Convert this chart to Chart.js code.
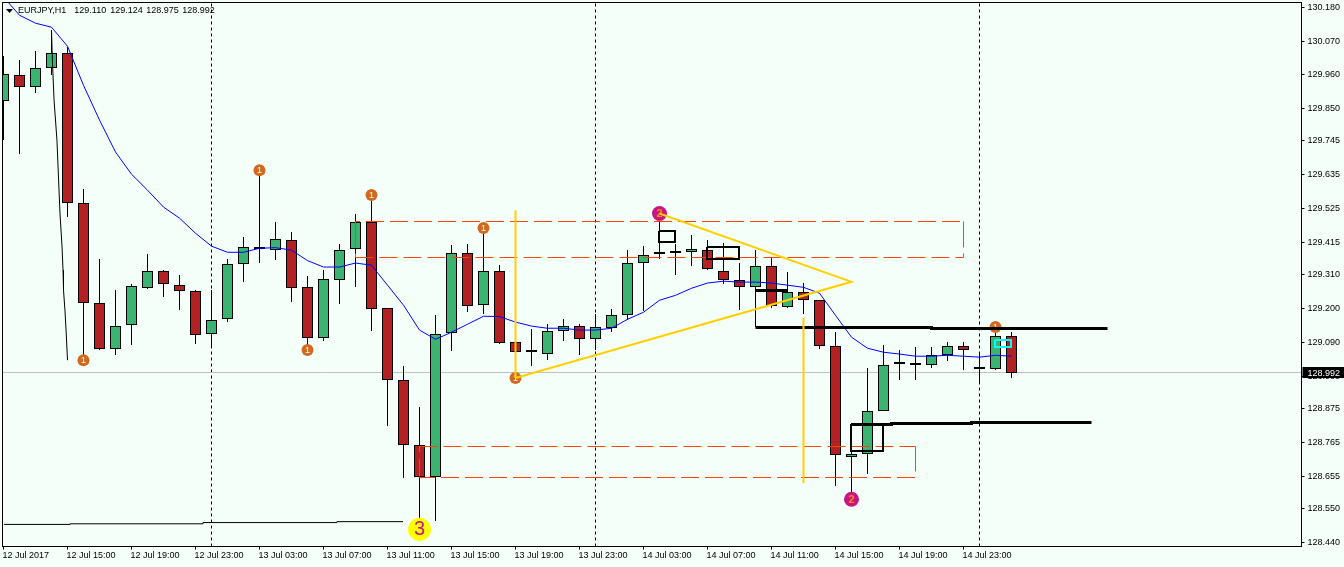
<!DOCTYPE html>
<html>
<head>
<meta charset="utf-8">
<title>EURJPY,H1</title>
<script src="https://cdn.jsdelivr.net/npm/chart.js@4"></script>
<style>
    html, body { margin: 0; padding: 0; background: #F5FFFA; overflow: hidden; }
    canvas { display: block; }
</style>
</head>
<body>
<canvas id="candleChart" width="1344" height="567"></canvas>
<script>
// hourly candles, one per slot, 12 Jul 11:00 onwards
const opens = [129.874,129.961,129.920,129.982,130.030,129.544,129.219,129.069,129.146,129.268,129.322,129.278,129.258,129.118,129.167,129.346,
    129.400,129.391,129.424,129.271,129.105,129.294,129.393,129.481,129.201,128.967,128.757,128.652,129.120,129.380,129.211,129.322,
    129.091,129.058,129.052,129.126,129.143,129.100,129.136,129.178,129.348,129.377,129.380,129.383,129.390,129.322,129.292,129.269,
    129.338,129.204,129.253,129.227,129.078,128.717,128.726,128.866,129.019,129.016,129.016,129.048,129.078,129.009,129.003,129.110];
const highs = [130.021,130.008,130.037,130.105,130.050,129.588,129.360,129.260,129.279,129.377,129.325,129.308,129.260,129.260,129.360,129.432,
    129.666,129.481,129.448,129.305,129.325,129.409,129.507,129.569,129.201,129.013,128.879,129.178,129.406,129.409,129.461,129.341,
    129.091,129.133,129.149,129.165,129.149,129.182,129.198,129.390,129.403,129.481,129.409,129.439,129.422,129.413,129.348,129.390,
    129.367,129.318,129.283,129.227,129.123,128.824,129.006,129.081,129.065,129.074,129.074,129.091,129.091,129.052,129.139,129.124];
const lows = [129.748,129.702,129.900,129.959,129.497,129.048,129.066,129.048,129.081,129.263,129.237,129.195,129.084,129.074,129.156,129.286,
    129.348,129.357,129.221,129.081,129.094,129.214,129.269,129.126,128.817,128.648,128.518,128.509,129.061,129.188,129.182,129.084,
    128.974,129.013,129.032,129.094,129.048,129.065,129.123,129.162,129.191,129.360,129.308,129.338,129.325,129.279,129.195,129.139,
    129.201,129.201,129.182,129.068,128.622,128.587,128.661,128.866,128.967,128.967,129.006,129.029,129.000,128.957,129.000,128.975];
const closes = [129.962,129.920,129.983,130.030,129.544,129.219,129.068,129.143,129.273,129.323,129.281,129.258,129.115,129.164,129.346,129.400,
    129.393,129.426,129.268,129.105,129.296,129.391,129.481,129.198,128.967,128.756,128.652,129.118,129.380,129.208,129.322,129.087,
    129.058,129.058,129.126,129.143,129.100,129.139,129.178,129.348,129.374,129.377,129.380,129.393,129.328,129.292,129.269,129.338,
    129.208,129.253,129.227,129.078,128.723,128.726,128.866,129.016,129.019,129.016,129.048,129.078,129.065,129.003,129.110,128.992];
const movingAverage = [130.213,130.154,130.128,130.115,130.053,129.926,129.813,129.709,129.637,129.585,129.530,129.494,129.445,129.403,129.383,129.383,
    129.396,129.398,129.390,129.356,129.335,129.335,129.348,129.341,129.276,129.211,129.130,129.100,129.123,129.149,129.175,129.174,
    129.156,129.143,129.136,129.136,129.130,129.130,129.136,129.165,129.188,129.227,129.243,129.266,129.283,129.289,129.286,129.286,
    129.283,129.276,129.269,129.250,129.178,129.107,129.071,129.058,129.052,129.045,129.045,129.048,129.045,129.042,129.048,129.045];

const priceTicks = [130.180,130.070,129.960,129.850,129.745,129.635,129.525,129.415,129.310,129.200,129.090,128.980,128.875,128.765,128.655,128.550,128.440];
const timeTickSlots = [0,4,8,12,16,20,24,28,32,36,40,44,48,52,56,60];
const timeTickLabels = ['12 Jul 2017','12 Jul 15:00','12 Jul 19:00','12 Jul 23:00','13 Jul 03:00','13 Jul 07:00','13 Jul 11:00','13 Jul 15:00',
    '13 Jul 19:00','13 Jul 23:00','14 Jul 03:00','14 Jul 07:00','14 Jul 11:00','14 Jul 15:00','14 Jul 19:00','14 Jul 23:00'];
const daySeparators = [13, 37, 61];
const lastPrice = 128.992;
const headerName = 'EURJPY,H1';
const headerValues = ['129.110','129.124','128.975','128.992'];

// drawn objects, as [slot, price]
const swingCurve = [[3,130.105],[3.06,130.001],[3.16,129.878],[3.34,129.748],[3.53,129.510],[3.66,129.400],[3.72,129.325],[3.75,129.260],[3.84,129.195],[3.91,129.130],[4,129.032]];
const bottomLine = [[0.03,128.498],[4.16,128.498],[4.16,128.500],[12.47,128.500],[12.47,128.504],[20.84,128.504],[20.84,128.507],[24.97,128.507]];
const zoneTop = 129.4831;
const zoneBottom = 129.3660;
const lowZoneTop = 128.7514;
const lowZoneBottom = 128.6506;
const yellowLines = [
    [[32,129.520],[32,128.974]],
    [[50,129.169],[50,128.633]],
    [[32,128.974],[53,129.287],[41,129.509]]
];
const blackBoxes = [
    [[40.97,129.4522],[41.97,129.4522],[41.97,129.4164],[40.97,129.4164],[40.97,129.4522]],
    [[43.97,129.4002],[45.97,129.4002],[45.97,129.3612],[43.97,129.3612],[43.97,129.4002]],
    [[52.97,128.8246],[54.97,128.8246],[54.97,128.7368],[52.97,128.7368],[52.97,128.8246]]
];
const cyanBox = [[61.97,129.0977],[62.97,129.0977],[62.97,129.0750],[61.97,129.0750],[61.97,129.0977]];
const thickLines = [
    [[47,129.1384],[58,129.1384],[58,129.1351],[69,129.1351]],
    [[47,129.2587],[49,129.2587]],
    [[53,128.8229],[55.5,128.8229],[55.5,128.8262],[60.5,128.8262],[60.5,128.8295],[68,128.8295]]
];
const firstMarkers = [[5,129.032],[16,129.650],[19,129.065],[23,129.569],[30,129.462],[32,128.974],[62,129.140]];
const secondMarkers = [[41,129.509],[53,128.580]];
const thirdMarkers = [[26,128.482]];

const greenBody = '#3CB371';
const redBody = '#B22222';
const zoneColor = '#FF4500';
const fontName = '"Liberation Sans", Arial, sans-serif';

const slots = opens.map((_, i) => i);
const toXY = pts => pts.map(p => ({x: p[0], y: p[1]}));

function lineSet(pts, color, width, order, dash, dashOffset){
    return {
        type: 'line',
        data: toXY(pts),
        borderColor: color,
        borderWidth: width,
        borderDash: dash || [],
        borderDashOffset: dashOffset || 0,
        pointRadius: 0,
        tension: 0,
        order: order
    };
}

function markerSet(pts, color, radius, label, labelColor, labelFont, order){
    return {
        type: 'line',
        data: toXY(pts),
        showLine: false,
        pointRadius: radius,
        pointBackgroundColor: color,
        pointBorderWidth: 0,
        markerLabel: label,
        markerColor: labelColor,
        markerFont: labelFont,
        order: order
    };
}

const datasets = [];

daySeparators.forEach(slot => {
    datasets.push(lineSet([[slot,128.4262],[slot,130.1953]], '#000000', 1, 90, [3,3]));
});
datasets.push(lineSet([[-0.0625,lastPrice],[81.125,lastPrice]], '#C0C0C0', 1, 89));

datasets.push({
    type: 'bar',
    data: slots.map(i => ({x: i, y: [lows[i], highs[i]]})),
    backgroundColor: '#000000',
    borderWidth: 0,
    barThickness: 1,
    grouped: false,
    inflateAmount: 0,
    order: 80
});
datasets.push({
    type: 'bar',
    data: slots.map(i => ({x: i, y: [opens[i], closes[i]]})),
    backgroundColor: slots.map(i => closes[i] >= opens[i] ? greenBody : redBody),
    borderColor: '#000000',
    borderWidth: 1,
    borderSkipped: false,
    barThickness: 11,
    minBarLength: 2,
    grouped: false,
    inflateAmount: 0,
    order: 79
});

datasets.push(lineSet(slots.map(i => [i, movingAverage[i]]), '#0000FF', 1, 60));

// the two dashed zones, edge by edge so each dash run starts where it should
datasets.push(lineSet([[22,zoneTop],[60,zoneTop]], zoneColor, 1, 50, [18,6], 13.5));
datasets.push(lineSet([[22,zoneBottom],[60,zoneBottom]], zoneColor, 1, 50, [18,6]));
datasets.push(lineSet([[22,zoneTop],[22,zoneBottom]], zoneColor, 1, 50, [26,6]));
datasets.push(lineSet([[60,zoneTop],[60,zoneBottom]], zoneColor, 1, 50, [26,6]));
datasets.push(lineSet([[26,lowZoneTop],[57,lowZoneTop]], zoneColor, 1, 50, [18,6]));
datasets.push(lineSet([[26,lowZoneBottom],[57,lowZoneBottom]], zoneColor, 1, 50, [18,6], 2.5));
datasets.push(lineSet([[26,lowZoneTop],[26,lowZoneBottom]], zoneColor, 1, 50, [18,6], 12));
datasets.push(lineSet([[57,lowZoneTop],[57,lowZoneBottom]], zoneColor, 1, 50, [25,6]));

datasets.push(lineSet(swingCurve, '#000000', 1, 40));
datasets.push(lineSet(bottomLine, '#000000', 1, 40));
datasets.push(markerSet(firstMarkers, '#D2691E', 6, '1', '#FFFFFF', '9px ' + fontName, 30));
datasets.push(markerSet(secondMarkers, '#C71585', 7.5, '2', '#FF8C00', 'bold 11px ' + fontName, 30));
datasets.push(markerSet(thirdMarkers, '#FFFF00', 11.5, '3', '#C71585', '20px ' + fontName, 30));
thickLines.forEach(pts => datasets.push(lineSet(pts, '#000000', 3, 20)));
blackBoxes.forEach(pts => datasets.push(lineSet(pts, '#000000', 2, 20)));
datasets.push(lineSet(cyanBox, '#00FFFF', 2, 20));
yellowLines.forEach(pts => datasets.push(lineSet(pts, '#FFD000', 2, 10)));

const terminalPlugin = {
    id: 'terminalPlugin',
    beforeDatasetsDraw(chart){
        // snap bar ends to whole pixels so the outlines stay crisp
        chart.getSortedVisibleDatasetMetas().forEach(meta => {
            if(meta.type !== 'bar') return;
            meta.data.forEach(bar => {
                const top = Math.round(Math.min(bar.y, bar.base));
                const bottom = Math.round(Math.max(bar.y, bar.base));
                bar.y = top;
                bar.base = Math.max(bottom, top + 2);
            });
        });
    },
    afterDatasetDraw(chart, args){
        const ds = chart.data.datasets[args.index];
        if(!ds.markerLabel) return;
        const ctx = chart.ctx;
        ctx.save();
        ctx.font = ds.markerFont;
        ctx.fillStyle = ds.markerColor;
        ctx.textAlign = 'center';
        ctx.textBaseline = 'middle';
        args.meta.data.forEach(pt => ctx.fillText(ds.markerLabel, pt.x, pt.y + 0.5));
        ctx.restore();
    },
    afterDraw(chart){
        const ctx = chart.ctx;
        const area = chart.chartArea;
        ctx.save();
        ctx.strokeStyle = '#000000';
        ctx.lineWidth = 1;
        ctx.strokeRect(area.left, area.top, area.right - area.left, area.bottom - area.top);

        // last price box on the axis
        const py = chart.scales.y.getPixelForValue(lastPrice);
        ctx.fillStyle = '#000000';
        ctx.fillRect(area.right + 1, py - 5.5, 42, 11);
        ctx.fillStyle = '#FFFFFF';
        ctx.font = '9px ' + fontName;
        ctx.textBaseline = 'middle';
        ctx.fillText(lastPrice.toFixed(3), 1307.5, py + 0.5);

        // header
        ctx.fillStyle = '#000000';
        ctx.beginPath();
        ctx.moveTo(6, 9);
        ctx.lineTo(13, 9);
        ctx.lineTo(9.5, 13);
        ctx.closePath();
        ctx.fill();
        ctx.fillText(headerName, 18, 10.5);
        headerValues.forEach((v, i) => ctx.fillText(v, 74.3 + 36 * i, 10.5));
        ctx.restore();
    }
};

function noPadding(scale){
    scale.paddingTop = 0;
    scale.paddingBottom = 0;
    scale.paddingLeft = 0;
    scale.paddingRight = 0;
}

new Chart(document.getElementById('candleChart').getContext('2d'), {
    data: {datasets: datasets},
    plugins: [terminalPlugin],
    options: {
        responsive: false,
        animation: false,
        events: [],
        devicePixelRatio: 1,
        layout: {autoPadding: false, padding: {left: 2.5, top: 2.5, right: 0, bottom: 0}},
        plugins: {legend: {display: false}, tooltip: {enabled: false}},
        scales: {
            x: {
                type: 'linear',
                offset: false,
                min: -0.0625,
                max: 81.125,
                afterBuildTicks(axis){ axis.ticks = timeTickSlots.map(v => ({value: v})); },
                afterFit(scale){ scale.height = 20.5; noPadding(scale); },
                border: {color: '#000000'},
                grid: {offset: false, drawOnChartArea: false, color: '#000000', tickLength: 3},
                ticks: {
                    align: 'start',
                    autoSkip: false,
                    maxRotation: 0,
                    padding: 1,
                    labelOffset: -1,
                    color: '#000000',
                    font: {family: fontName, size: 9},
                    callback: value => timeTickLabels[timeTickSlots.indexOf(value)]
                }
            },
            y: {
                type: 'linear',
                position: 'right',
                min: 128.4262,
                max: 130.1953,
                afterBuildTicks(axis){ axis.ticks = priceTicks.map(v => ({value: v})); },
                afterFit(scale){ scale.width = 42.5; noPadding(scale); },
                border: {color: '#000000'},
                grid: {drawOnChartArea: false, color: '#000000', tickLength: 3},
                ticks: {
                    autoSkip: false,
                    padding: 3,
                    color: '#000000',
                    font: {family: fontName, size: 9},
                    callback: value => value.toFixed(3)
                }
            }
        }
    }
});
</script>
</body>
</html>
